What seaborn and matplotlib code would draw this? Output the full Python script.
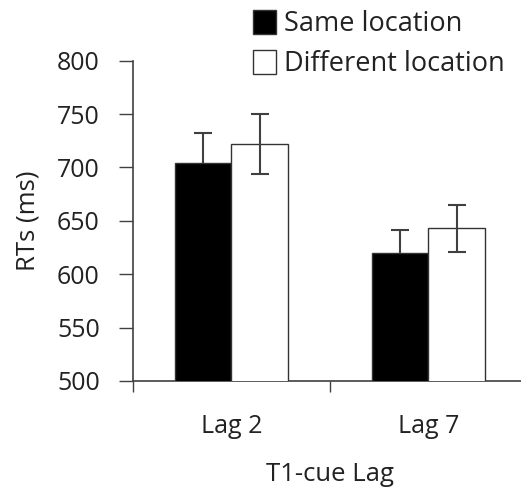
import matplotlib
matplotlib.use("Agg")
import matplotlib.pyplot as plt
import seaborn as sns
import pandas as pd
import numpy as np

lags = ["Lag 2", "Lag 7"]
conditions = ["Same location", "Different location"]
same_rt = [704, 620]
diff_rt = [722, 643]
same_err = [28, 21]
diff_err = [28, 22]
y_ticks = [500, 550, 600, 650, 700, 750, 800]

df = pd.DataFrame({
    "lag": lags * 2,
    "cond": [conditions[0]] * 2 + [conditions[1]] * 2,
    "rt": same_rt + diff_rt,
    "err": same_err + diff_err,
})

sns.set_theme(style="white")
plt.rcParams["font.family"] = ["Open Sans", "DejaVu Sans"]

fig = plt.figure(figsize=(5.21, 4.87), dpi=100)
ax = fig.add_axes([133 / 521, 1 - 381 / 487, 394 / 521, (381 - 60.7) / 487])

sns.barplot(data=df, x="lag", y="rt", hue="cond", order=lags, hue_order=conditions,
            palette=["black", "white"], width=0.575, edgecolor="#333333", linewidth=1.0,
            errorbar=None, ax=ax, legend=True, zorder=3)

# error bars from the bar patches (hidden inside the dark bars, as in the original)
bars = [p for p in ax.patches if p.get_height() > 0][:4]
for i, p in enumerate(bars):
    xc = p.get_x() + p.get_width() / 2
    row = df.iloc[i]
    z = 2 if row["cond"] == conditions[0] else 5
    ax.errorbar(xc, row["rt"], yerr=row["err"], color="#404040",
                elinewidth=1.5, capsize=6.5, capthick=1.5, fmt="none", zorder=z)

ax.set_ylim(500, 800)
ax.set_yticks(y_ticks)
ax.set_xlim(-0.5, 1.5)
ax.set_xticks([-0.5, 0.5, 1.5])
ax.set_xticklabels(["", "", ""])
ax.set_xticks([0, 1], minor=True)
ax.set_xticklabels(lags, minor=True)
ax.tick_params(axis="x", which="major", direction="out", length=8, width=1, color="#404040", bottom=True)
ax.tick_params(axis="x", which="minor", length=0, labelsize=18, pad=24, colors="#222222")
ax.tick_params(axis="y", direction="out", length=10, width=1, color="#404040", left=True,
               labelsize=18, pad=14, labelcolor="#222222")
for s in ["top", "right"]:
    ax.spines[s].set_visible(False)
for s in ["left", "bottom"]:
    ax.spines[s].set_color("#404040")
    ax.spines[s].set_linewidth(1.2)
ax.grid(False)
ax.set_xlabel("T1-cue Lag", fontsize=18.5, labelpad=16, color="#222222")
ax.set_ylabel("RTs (ms)", fontsize=18.5, labelpad=12, color="#222222")

handles, labels = ax.get_legend_handles_labels()
ax.get_legend().remove()
leg = fig.legend(handles, labels, loc="upper left", bbox_to_anchor=(242 / 521, 1 + 1 / 487),
                 frameon=False, fontsize=19.5, handlelength=0.85, handleheight=1.0,
                 handletextpad=0.3, labelspacing=0.42, borderaxespad=0)
for t in leg.get_texts():
    t.set_color("#222222")

fig.savefig("out.png", dpi=100)
